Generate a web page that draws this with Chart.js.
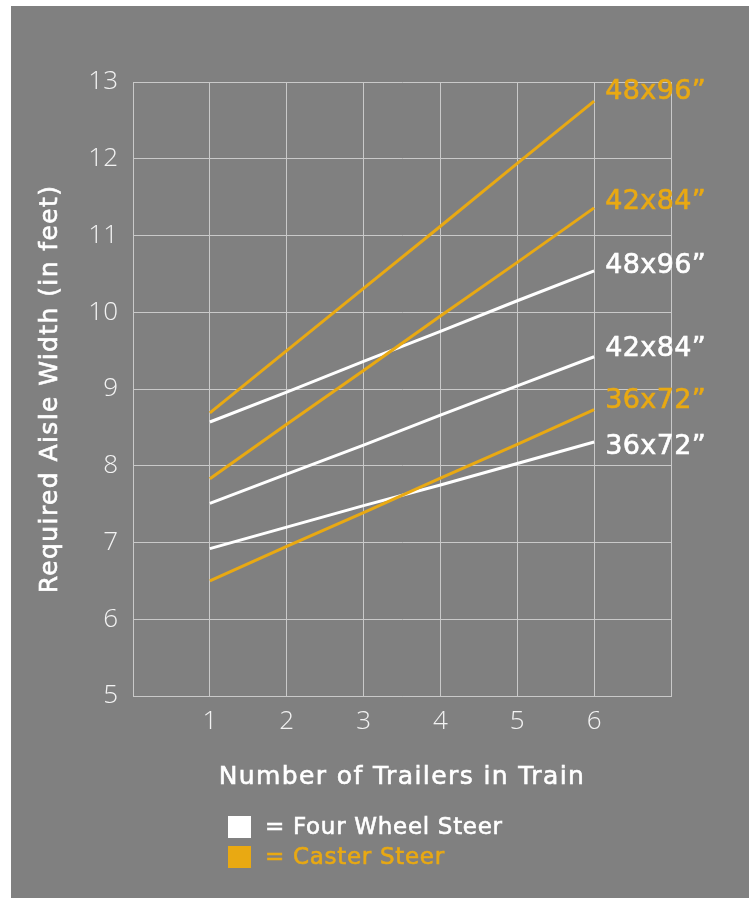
<!DOCTYPE html>
<html>
<head>
<meta charset="utf-8">
<script src="https://cdn.jsdelivr.net/npm/chart.js@4/dist/chart.umd.min.js"></script>
<style>
  html, body { margin: 0; padding: 0; background: #ffffff; }
  #wrap { width: 749px; height: 898px; position: relative; }
</style>
</head>
<body>
<div id="wrap"><canvas id="aisleChart" width="749" height="898"></canvas></div>
<script>
// values
const trailers = [1, 2, 3, 4, 5, 6];
const xTicks = [1, 2, 3, 4, 5, 6];
const yTicks = [5, 6, 7, 8, 9, 10, 11, 12, 13];

const caster48x96 = [8.69, 9.50, 10.31, 11.12, 11.94, 12.75];
const caster42x84 = [7.83, 8.54, 9.24, 9.95, 10.65, 11.36];
const caster36x72 = [6.50, 6.95, 7.39, 7.84, 8.28, 8.73];
const four48x96 = [8.57, 8.96, 9.36, 9.75, 10.15, 10.54];
const four42x84 = [7.51, 7.89, 8.27, 8.66, 9.04, 9.42];
const four36x72 = [6.92, 7.20, 7.48, 7.75, 8.03, 8.31];

const WHITE = "#ffffff";
const ORANGE = "#E9A912";
const TICK_FONT = "'Open Sans', 'Noto Sans', sans-serif";
const TEXT_FONT = "'DejaVu Sans', 'Noto Sans', sans-serif";

function series(label, values, color, labelShift) {
  return {
    label: label,
    data: trailers.map((t, i) => ({ x: t, y: values[i] })),
    borderColor: color,
    backgroundColor: color,
    borderWidth: 3,
    pointRadius: 0,
    fill: false,
    tension: 0,
    labelShift: labelShift, // vertical nudge of end label, px
  };
}

const datasets = [
  series("36x72\u201D", caster36x72, ORANGE, -9),
  series("42x84\u201D", caster42x84, ORANGE, -6),
  series("48x96\u201D", caster48x96, ORANGE, -9),
  series("36x72\u201D", four36x72, WHITE, 5),
  series("42x84\u201D", four42x84, WHITE, -8),
  series("48x96\u201D", four48x96, WHITE, -5),
];

// grey panel behind everything
const panelPlugin = {
  id: "panel",
  beforeDraw(chart) {
    const ctx = chart.ctx;
    ctx.save();
    ctx.fillStyle = "#ffffff";
    ctx.fillRect(0, 0, chart.width, chart.height);
    ctx.fillStyle = "#808080";
    ctx.fillRect(11, 6, chart.width - 11, chart.height - 6);
    ctx.restore();
  },
};

// slightly heavier text, closer to the medium weight in the original
function boldText(ctx, text, x, y, color) {
  ctx.fillStyle = color;
  ctx.strokeStyle = color;
  ctx.lineWidth = 0.6;
  ctx.fillText(text, x, y);
  ctx.strokeText(text, x, y);
}

// end labels, axis titles and legend
const textPlugin = {
  id: "texts",
  afterDraw(chart) {
    const ctx = chart.ctx;
    const xs = chart.scales.x;
    const ys = chart.scales.y;
    ctx.save();
    ctx.textBaseline = "middle";

    ctx.font = "27px " + TEXT_FONT;
    ctx.letterSpacing = "0.4px";
    ctx.textAlign = "left";
    chart.data.datasets.forEach((ds) => {
      const last = ds.data[ds.data.length - 1];
      boldText(ctx, ds.label, xs.getPixelForValue(last.x) + 11,
        ys.getPixelForValue(last.y) + ds.labelShift, ds.borderColor);
    });

    ctx.font = "25px " + TEXT_FONT;
    ctx.letterSpacing = "1.4px";
    ctx.textAlign = "center";
    boldText(ctx, "Number of Trailers in Train", (xs.left + xs.right) / 2, 777, WHITE);

    ctx.save();
    ctx.translate(50, (ys.top + ys.bottom) / 2);
    ctx.rotate(-Math.PI / 2);
    boldText(ctx, "Required Aisle Width (in feet)", 0, 0, WHITE);
    ctx.restore();

    ctx.textAlign = "left";
    ctx.font = "23px " + TEXT_FONT;
    ctx.letterSpacing = "0.7px";
    ctx.fillStyle = WHITE;
    ctx.fillRect(228, 816, 23, 22);
    boldText(ctx, "= Four Wheel Steer", 265, 828, WHITE);
    ctx.fillStyle = ORANGE;
    ctx.fillRect(228, 846, 23, 22);
    boldText(ctx, "= Caster Steer", 265, 858, ORANGE);
    ctx.restore();
  },
};

const ctx = document.getElementById("aisleChart").getContext("2d");

new Chart(ctx, {
  type: "line",
  data: { datasets: datasets },
  options: {
    responsive: false,
    animation: false,
    devicePixelRatio: 1,
    layout: { padding: { top: 82, right: 78, left: 0, bottom: 0 } },
    plugins: {
      legend: { display: false },
      tooltip: { enabled: false },
    },
    scales: {
      x: {
        type: "linear",
        min: 0,
        max: 7,
        afterFit(scale) { scale.height = 202; },
        afterBuildTicks(scale) {
          scale.ticks = [0, ...xTicks, 7].map((v) => ({ value: v }));
        },
        ticks: {
          stepSize: 1,
          color: "#f2f2f2",
          padding: 10,
          font: { family: TICK_FONT, size: 26, weight: "300" },
          callback: (v) => (xTicks.includes(v) ? String(v) : ""),
        },
        grid: { color: "#c9c9c9", lineWidth: 1, drawTicks: false },
        border: { color: "#c9c9c9", width: 1 },
      },
      y: {
        type: "linear",
        min: 5,
        max: 13,
        afterFit(scale) { scale.width = 133; },
        afterBuildTicks(scale) {
          scale.ticks = yTicks.map((v) => ({ value: v }));
        },
        ticks: {
          stepSize: 1,
          color: "#f2f2f2",
          padding: 15,
          font: { family: TICK_FONT, size: 26, weight: "300" },
        },
        grid: { color: "#c9c9c9", lineWidth: 1, drawTicks: false },
        border: { color: "#c9c9c9", width: 1 },
      },
    },
  },
  plugins: [panelPlugin, textPlugin],
});
</script>
</body>
</html>
